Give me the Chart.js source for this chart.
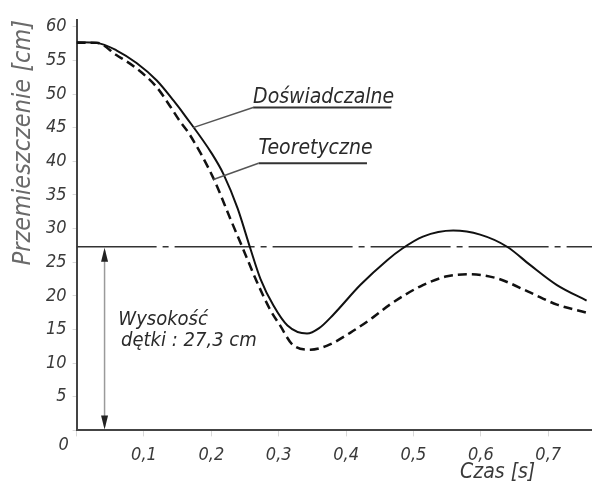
<!DOCTYPE html>
<html>
<head>
<meta charset="utf-8">
<script src="https://cdn.jsdelivr.net/npm/chart.js@4/dist/chart.umd.min.js"></script>
<style>
  html, body { margin: 0; padding: 0; background: #fff; }
  #wrap { width: 592px; height: 482px; position: relative; }
</style>
</head>
<body>
<div id="wrap"><canvas id="chart"></canvas></div>
<script>
// Przemieszczenie w funkcji czasu: pomiar vs teoria

// ---------- data ----------
const TIME_EXP = [0, 0.03, 0.059, 0.089, 0.119, 0.144, 0.163, 0.201, 0.218, 0.239, 0.258,
  0.273, 0.292, 0.313, 0.342, 0.36, 0.381, 0.421, 0.461, 0.483, 0.514, 0.559, 0.599, 0.639,
  0.673, 0.713, 0.757];
const DISP_EXP = [57.7, 57.6, 56.5, 54.6, 52.0, 49.0, 46.5, 41.1, 38.1, 33.0, 27.0,
  22.5, 18.6, 15.6, 14.4, 15.2, 17.2, 21.6, 25.3, 27.0, 28.8, 29.7, 29.1, 27.3,
  24.6, 21.6, 19.3];

const TIME_THEO = [0, 0.03, 0.059, 0.089, 0.119, 0.138, 0.153, 0.167, 0.203, 0.228, 0.247, 0.268,
  0.287, 0.302, 0.321, 0.347, 0.372, 0.406, 0.44, 0.465, 0.514, 0.55, 0.584, 0.624, 0.673,
  0.713, 0.757];
const DISP_THEO = [57.6, 57.6, 55.8, 53.8, 51.0, 48.3, 46.0, 44.1, 37.5, 31.5, 27.0, 22.0,
  18.0, 15.6, 12.7, 12.0, 12.6, 14.5, 16.8, 18.7, 21.6, 22.9, 23.2, 22.6, 20.5,
  18.7, 17.5];

const TUBE_HEIGHT = 27.3;       // wysokość dętki [cm]
const ARROW_TIME  = 0.0415;     // where the height arrow stands
const X_MIN = 0, X_MAX = 0.765, X_STEP = 0.1;
const Y_MIN = 0, Y_MAX = 61,    Y_STEP = 5;

const X_TITLE = "Czas [s]";
const Y_TITLE = "Przemieszczenie [cm]";
const LABEL_EXP  = "Doświadczalne";
const LABEL_THEO = "Teoretyczne";
const TUBE_TEXT  = ["Wysokość", "dętki : 27,3 cm"];

// label anchors in data units: text start, underline end, leader end on curve
const LABEL_EXP_AT  = { t: 0.262, v: 48.7, uv: 48.0, t2: 0.467, lt: 0.173, lv: 45.0 };
const LABEL_THEO_AT = { t: 0.27,  v: 41.1, uv: 39.7, t2: 0.431, lt: 0.203, lv: 37.3 };
const TUBE_TEXT_AT  = [{ t: 0.062, v: 15.7 }, { t: 0.066, v: 12.6 }];
const X_TITLE_AT    = 0.625;

// ---------- look ----------
const FONT = '"DejaVu Sans Condensed", "DejaVu Sans", sans-serif';
const INK = "#2a2a2a";
const fmtComma = v => v.toFixed(1).replace(".", ",");

const pts = (xs, ys) => xs.map((x, i) => ({ x, y: ys[i] }));

// annotations drawn on top, all placed through the scales
const annotate = {
  id: "annotate",
  afterDatasetsDraw(chart) {
    const { ctx, scales: { x, y } } = chart;
    const px = v => x.getPixelForValue(v), py = v => y.getPixelForValue(v);
    ctx.save();

    // double arrow: tube height
    const ax = px(ARROW_TIME), aTop = py(TUBE_HEIGHT), aBot = py(0);
    ctx.strokeStyle = "#9a9a9a";
    ctx.lineWidth = 1.5;
    ctx.beginPath(); ctx.moveTo(ax, aTop + 4); ctx.lineTo(ax, aBot - 4); ctx.stroke();
    ctx.fillStyle = "#222";
    ctx.beginPath(); ctx.moveTo(ax, aTop + 1); ctx.lineTo(ax - 3.5, aTop + 15); ctx.lineTo(ax + 3.5, aTop + 15); ctx.closePath(); ctx.fill();
    ctx.beginPath(); ctx.moveTo(ax, aBot - 1); ctx.lineTo(ax - 3.5, aBot - 15); ctx.lineTo(ax + 3.5, aBot - 15); ctx.closePath(); ctx.fill();

    // curve labels with underline + leader
    ctx.font = `oblique 21px ${FONT}`;
    ctx.textBaseline = "alphabetic";
    ctx.textAlign = "left";
    for (const [txt, a] of [[LABEL_EXP, LABEL_EXP_AT], [LABEL_THEO, LABEL_THEO_AT]]) {
      ctx.fillStyle = INK;
      ctx.fillText(txt, px(a.t), py(a.v));
      ctx.strokeStyle = "#333";
      ctx.lineWidth = 2;
      ctx.beginPath(); ctx.moveTo(px(a.t), py(a.uv)); ctx.lineTo(px(a.t2), py(a.uv)); ctx.stroke();
      ctx.strokeStyle = "#555";
      ctx.lineWidth = 1.5;
      ctx.beginPath(); ctx.moveTo(px(a.t), py(a.uv)); ctx.lineTo(px(a.lt), py(a.lv)); ctx.stroke();
    }

    // tube height text
    ctx.font = `oblique 20px ${FONT}`;
    ctx.fillStyle = INK;
    TUBE_TEXT.forEach((s, i) => ctx.fillText(s, px(TUBE_TEXT_AT[i].t), py(TUBE_TEXT_AT[i].v)));

    // origin "0" and x title
    ctx.font = `oblique 18px ${FONT}`;
    ctx.fillStyle = "#3a3a3a";
    ctx.textAlign = "center";
    ctx.fillText("0", x.left - 13, y.bottom + 20);
    ctx.font = `oblique 21px ${FONT}`;
    ctx.fillText(X_TITLE, px(X_TITLE_AT), chart.height - 4);
    ctx.restore();
  }
};

new Chart(document.getElementById("chart"), {
  type: "line",
  data: {
    datasets: [
      {
        label: LABEL_EXP,
        data: pts(TIME_EXP, DISP_EXP),
        borderColor: "#111",
        borderWidth: 2,
        pointRadius: 0,
        cubicInterpolationMode: "monotone",
        fill: false,
      },
      {
        label: LABEL_THEO,
        data: pts(TIME_THEO, DISP_THEO),
        borderColor: "#111",
        borderWidth: 2.5,
        borderDash: [9, 5],
        pointRadius: 0,
        cubicInterpolationMode: "monotone",
        fill: false,
      },
      {
        label: "Wysokość dętki",
        data: [{ x: X_MIN, y: TUBE_HEIGHT }, { x: X_MAX, y: TUBE_HEIGHT }],
        borderColor: "#333",
        borderWidth: 1.5,
        borderDash: [80, 6, 6, 6],
        pointRadius: 0,
        fill: false,
      },
    ],
  },
  options: {
    responsive: true,
    maintainAspectRatio: false,
    animation: false,
    layout: { padding: { left: 6, top: 20, right: 0, bottom: 8 } },
    plugins: {
      legend: { display: false },
      tooltip: { enabled: false },
    },
    scales: {
      x: {
        type: "linear",
        min: X_MIN,
        max: X_MAX,
        border: { color: "#444", width: 2 },
        grid: { drawOnChartArea: false, color: "#d8d8d8", tickLength: 6 },
        ticks: {
          stepSize: X_STEP,
          includeBounds: false,
          padding: 8,
          maxRotation: 0,
          color: "#3a3a3a",
          font: { family: FONT, size: 18, style: "oblique" },
          callback: v => (v === 0 ? "" : fmtComma(v)),
        },
      },
      y: {
        min: Y_MIN,
        max: Y_MAX,
        border: { color: "#444", width: 2 },
        grid: { drawOnChartArea: false, color: "#d8d8d8", tickLength: 4 },
        title: {
          display: true,
          text: Y_TITLE,
          align: "end",
          color: "#6a6a6a",
          padding: 2,
          font: { family: FONT, size: 25, style: "oblique" },
        },
        ticks: {
          stepSize: Y_STEP,
          includeBounds: false,
          padding: 6,
          color: "#3a3a3a",
          font: { family: FONT, size: 18, style: "oblique" },
          callback: v => (v === 0 ? "" : String(v)),
        },
      },
    },
  },
  plugins: [annotate],
});
</script>
</body>
</html>
